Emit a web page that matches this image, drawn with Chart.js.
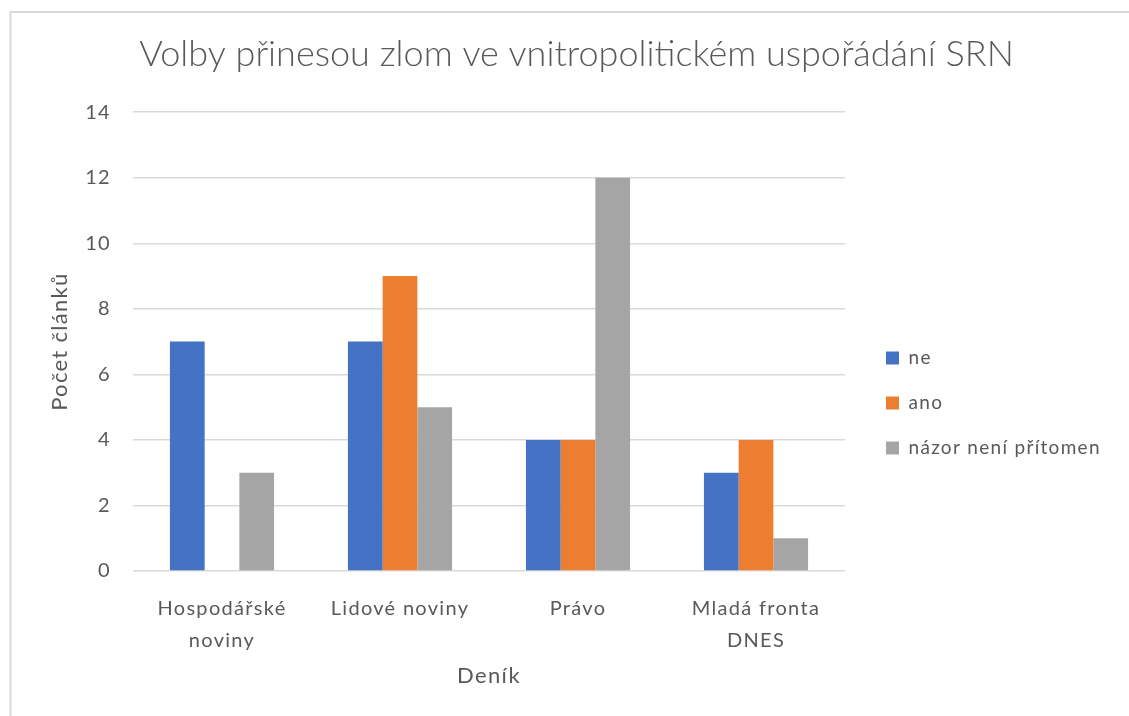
<!DOCTYPE html>
<html>
<head>
<meta charset="utf-8">
<script src="https://cdn.jsdelivr.net/npm/chart.js@4.4.1/dist/chart.umd.min.js"></script>
<style>
  html, body { margin: 0; padding: 0; background: #fff; }
  #wrap { width: 1129px; height: 716px; }
</style>
</head>
<body>
<div id="wrap"><canvas id="myChart" width="1129" height="716"></canvas></div>
<script>
// data
const categories = [['Hospodářské', 'noviny'], 'Lidové noviny', 'Právo', ['Mladá fronta', 'DNES']];
const seriesNames = ['ne', 'ano', 'názor není přítomen'];
const neValues = [7, 7, 4, 3];
const anoValues = [0, 9, 4, 4];
const nazorValues = [3, 5, 12, 1];
const yTicks = [0, 2, 4, 6, 8, 10, 12, 14];

const FONT = 'Lato, "Open Sans", sans-serif';
const TEXT = '#595959';
const GRID = '#d9d9d9';

// layout numbers (px)
const PLOT_LEFT = 133;
const PLOT_RIGHT = 845;
const PLOT_BOTTOM = 571;
const LEGEND_PAD = 26;
const LEGEND_SHIFT = 15;
const LEGEND_DROP = 90;
const TITLE_SHIFT = 12;
const SPACING = '1.3px';

// light frame round the chart, running off the right and bottom
const chartFrame = {
    id: 'chartFrame',
    beforeDraw(chart) {
        const c = chart.ctx;
        c.save();
        c.fillStyle = '#fff';
        c.fillRect(0, 0, chart.width, chart.height);
        c.strokeStyle = GRID;
        c.lineWidth = 2;
        c.strokeRect(10.5, 12, chart.width + 40, chart.height + 40);
        c.restore();
        // the source renders small text a little spaced out
        c.letterSpacing = SPACING;
    }
};

// legend sits a bit away from the plot, like excel does it
const legendGap = {
    id: 'legendGap',
    beforeLayout(chart) {
        const lg = chart.legend;
        if (lg && !lg._patched) {
            const fit = lg.fit;
            lg.fit = function () {
                fit.call(this);
                this.width = chart.width - PLOT_RIGHT;
            };
            lg._patched = true;
        }
        const tb = chart.titleBlock;
        if (tb && !tb._patched) {
            const draw = tb.draw;
            tb.draw = function (area) {
                const c = this.ctx;
                const old = c.letterSpacing;
                c.save();
                c.letterSpacing = '0px';
                c.translate(TITLE_SHIFT, 0);
                draw.call(this, area);
                c.restore();
                c.letterSpacing = old;
            };
            tb._patched = true;
        }
    },
    afterLayout(chart) {
        if (chart.legend) {
            chart.legend.left += LEGEND_SHIFT;
            chart.legend.top += LEGEND_DROP;
        }
    }
};

const ctx = document.getElementById('myChart').getContext('2d');

const myChart = new Chart(ctx, {
    type: 'bar',
    data: {
        labels: categories,
        datasets: [
            { label: seriesNames[0], data: neValues, backgroundColor: '#4472c4' },
            { label: seriesNames[1], data: anoValues, backgroundColor: '#ed7d31' },
            { label: seriesNames[2], data: nazorValues, backgroundColor: '#a5a5a5' }
        ]
    },
    options: {
        responsive: false,
        animation: false,
        datasets: {
            bar: { categoryPercentage: 0.585, barPercentage: 1, borderWidth: 0 }
        },
        layout: { padding: 0 },
        plugins: {
            title: {
                display: true,
                text: 'Volby přinesou zlom ve vnitropolitickém uspořádání SRN',
                color: TEXT,
                font: { family: FONT, size: 36, weight: 300, lineHeight: 1.2 },
                padding: { top: 33, bottom: 36 }
            },
            legend: {
                position: 'right',
                align: 'center',
                labels: {
                    color: TEXT,
                    font: { family: FONT, size: 19 },
                    boxWidth: 13,
                    boxHeight: 13,
                    padding: LEGEND_PAD
                }
            },
            tooltip: { enabled: false }
        },
        scales: {
            x: {
                grid: { display: false },
                border: { display: false },
                ticks: {
                    color: TEXT,
                    padding: 14,
                    font: { family: FONT, size: 20, lineHeight: 1.6 },
                    maxRotation: 0,
                    autoSkip: false
                },
                title: {
                    display: true,
                    text: 'Deník',
                    color: TEXT,
                    font: { family: FONT, size: 22, lineHeight: 1.2 },
                    padding: { top: 0, bottom: 27 }
                },
                afterFit(scale) { scale.height = 716 - PLOT_BOTTOM; }
            },
            y: {
                min: 0,
                max: 14,
                afterBuildTicks(scale) { scale.ticks = yTicks.map(v => ({ value: v })); },
                grid: { color: GRID, lineWidth: 1.5, drawTicks: false },
                border: { display: false },
                ticks: {
                    color: TEXT,
                    padding: 22,
                    font: { family: FONT, size: 20 }
                },
                title: {
                    display: true,
                    text: 'Počet článků',
                    color: TEXT,
                    font: { family: FONT, size: 22, lineHeight: 1.2 },
                    padding: { top: 47, bottom: 0 }
                },
                afterFit(scale) { scale.width = PLOT_LEFT; }
            }
        }
    },
    plugins: [chartFrame, legendGap]
});
</script>
</body>
</html>
